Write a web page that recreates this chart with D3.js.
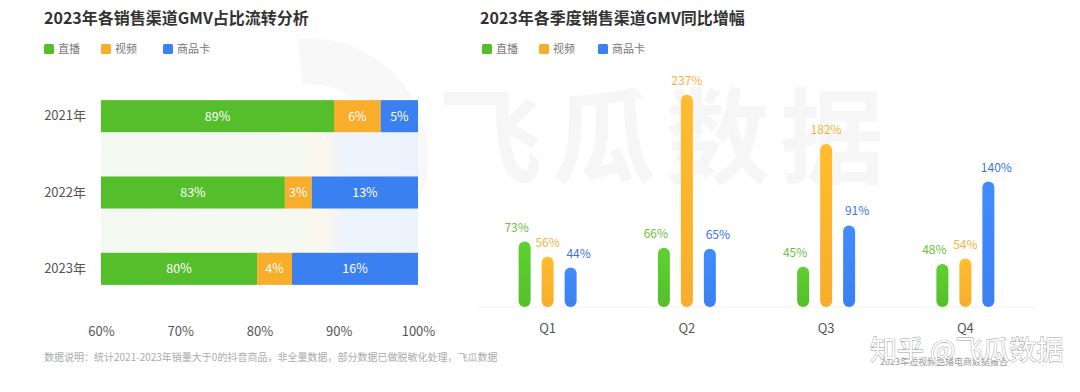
<!DOCTYPE html>
<html>
<head>
<meta charset="utf-8">
<script src="https://cdn.jsdelivr.net/npm/d3@7"></script>
<style>
  body { margin: 0; background: #fff; }
  svg { display: block; font-family: "Noto Sans CJK SC", "Noto Sans", sans-serif; }
</style>
</head>
<body>
<svg id="chart" width="1080" height="392"></svg>
<script>
// left chart: channel share by year (raw shares, labels rounded)
const years = ["2021年", "2022年", "2023年"];
const liveShare = [89.4, 83.2, 79.7];
const videoShare = [5.9, 3.4, 4.4];
const cardShare = [4.7, 13.4, 15.9];
const shareTicks = [60, 70, 80, 90, 100];

// right chart: yoy growth by quarter
const quarters = ["Q1", "Q2", "Q3", "Q4"];
const liveGrowth = [73, 66, 45, 48];
const videoGrowth = [56, 237, 182, 54];
const cardGrowth = [44, 65, 91, 140];

const seriesNames = ["直播", "视频", "商品卡"];
const colors = ["#55bf2b", "#f8ad2b", "#3b80f1"];
const textColors = ["#6dbd42", "#f2b440", "#3a74dc"];

const svg = d3.select("#chart");
const defs = svg.append("defs");

// watermark text
svg.append("text")
    .attr("x", 438).attr("y", 176)
    .attr("font-size", 104).attr("font-weight", 700)
    .attr("letter-spacing", 10)
    .attr("fill", "#f6f6f6")
    .text("飞瓜数据");

// faint logo arc behind left chart
svg.append("path")
    .attr("d", "M300,62 A95,95 0 1,1 250,230")
    .attr("fill", "none")
    .attr("stroke", "#f8f8f8")
    .attr("stroke-width", 46);

// ---------- titles and legends ----------
function legend(x0, gaps) {
  const g = svg.append("g").attr("transform", `translate(${x0},49)`);
  let x = 0;
  seriesNames.forEach((name, i) => {
    g.append("rect").attr("x", x).attr("y", -5).attr("width", 10).attr("height", 10)
        .attr("rx", 1.5).attr("fill", colors[i]);
    g.append("text").attr("x", x + 14).attr("y", 4)
        .attr("font-size", 11).attr("fill", "#777").text(name);
    x += gaps[i];
  });
}

svg.append("text").attr("x", 44).attr("y", 24)
    .attr("font-size", 16).attr("font-weight", 700).attr("fill", "#333")
    .text("2023年各销售渠道GMV占比流转分析");
legend(44, [57, 62, 0]);

svg.append("text").attr("x", 480).attr("y", 24)
    .attr("font-size", 16).attr("font-weight", 700).attr("fill", "#333")
    .text("2023年各季度销售渠道GMV同比增幅");
legend(482, [57, 59, 0]);

// ---------- left: stacked horizontal bars ----------
const x = d3.scaleLinear().domain([60, 100]).range([101, 418]).clamp(true);
const y = d3.scaleBand().domain(years).range([78, 307])
    .paddingInner(0.58).paddingOuter(0.29);

const grad = defs.append("linearGradient").attr("id", "stripe")
    .attr("x1", "0%").attr("x2", "100%");
grad.append("stop").attr("offset", "0%").attr("stop-color", "#f3f8f0");
grad.append("stop").attr("offset", "62%").attr("stop-color", "#f6f9f2");
grad.append("stop").attr("offset", "70%").attr("stop-color", "#fcf7ec");
grad.append("stop").attr("offset", "76%").attr("stop-color", "#eef4fc");
grad.append("stop").attr("offset", "100%").attr("stop-color", "#ecf3fd");

// background bands between bars
svg.append("g").selectAll("rect")
    .data(years.slice(0, -1))
    .join("rect")
    .attr("x", x(60))
    .attr("y", d => y(d) + y.bandwidth())
    .attr("width", x(100) - x(60))
    .attr("height", y.step() - y.bandwidth())
    .attr("fill", "url(#stripe)");

const rows = years.map((yr, i) => ({ year: yr, v: [liveShare[i], videoShare[i], cardShare[i]] }));
const segs = [];
rows.forEach(r => {
  let acc = 0;
  r.v.forEach((v, k) => { segs.push({ year: r.year, k, x0: acc, x1: acc + v, v }); acc += v; });
});

const left = svg.append("g");
left.selectAll("rect")
    .data(segs)
    .join("rect")
    .attr("x", d => x(d.x0))
    .attr("y", d => y(d.year))
    .attr("width", d => x(d.x1) - x(d.x0))
    .attr("height", y.bandwidth())
    .attr("fill", d => colors[d.k]);

left.selectAll("text")
    .data(segs)
    .join("text")
    .attr("x", d => (x(d.x0) + x(d.x1)) / 2)
    .attr("y", d => y(d.year) + y.bandwidth() / 2 + 4.5)
    .attr("text-anchor", "middle")
    .attr("font-size", 12.5)
    .attr("fill", "#fff")
    .text(d => d3.format(".0f")(d.v) + "%");

svg.append("g")
    .attr("transform", "translate(0,324)")
    .call(d3.axisBottom(x).tickValues(shareTicks).tickSize(0).tickFormat(d => d + "%"))
    .call(g => g.select(".domain").remove())
    .call(g => g.selectAll("text").attr("font-size", 13).attr("fill", "#555")
        .attr("font-family", "Noto Sans CJK SC"));

svg.append("g")
    .attr("transform", "translate(89,0)")
    .call(d3.axisLeft(y).tickSize(0))
    .call(g => g.select(".domain").remove())
    .call(g => g.selectAll("text").attr("font-size", 13).attr("fill", "#555")
        .attr("font-family", "Noto Sans CJK SC"));

svg.append("text").attr("x", 44).attr("y", 361)
    .attr("font-size", 10).attr("fill", "#aaa")
    .text("数据说明：统计2021-2023年销量大于0的抖音商品，非全量数据，部分数据已做脱敏化处理，飞瓜数据");

// ---------- right: grouped rounded bars ----------
const qx = d3.scaleBand().domain(quarters).range([478, 1035]);
const sx = d3.scalePoint().domain([0, 1, 2]).range([-23, 23]);
const gy = d3.scaleLinear().domain([0, 250]).range([307, 83]);
const labelShift = [-8, 0, 8];

colors.forEach((c, k) => {
  const lg = defs.append("linearGradient").attr("id", "bar" + k)
      .attr("x1", 0).attr("x2", 0).attr("y1", 0).attr("y2", 1);
  lg.append("stop").attr("offset", "0%").attr("stop-color", d3.color(c).brighter(0.25));
  lg.append("stop").attr("offset", "100%").attr("stop-color", c);
});

svg.append("line")
    .attr("x1", 478).attr("x2", 1035)
    .attr("y1", gy(0)).attr("y2", gy(0))
    .attr("stroke", "#f2f2f2");

const gdata = [];
quarters.forEach((q, i) => {
  [liveGrowth[i], videoGrowth[i], cardGrowth[i]].forEach((v, k) => gdata.push({ q, k, v }));
});

const right = svg.append("g");
const bw = 12;
right.selectAll("rect")
    .data(gdata)
    .join("rect")
    .attr("x", d => qx(d.q) + qx.bandwidth() / 2 + sx(d.k) - bw / 2)
    .attr("y", d => gy(d.v))
    .attr("width", bw)
    .attr("height", d => gy(0) - gy(d.v))
    .attr("rx", bw / 2)
    .attr("fill", d => `url(#bar${d.k})`);

right.selectAll("text")
    .data(gdata)
    .join("text")
    .attr("x", d => qx(d.q) + qx.bandwidth() / 2 + sx(d.k) + labelShift[d.k])
    .attr("y", d => gy(d.v) - 10)
    .attr("text-anchor", "middle")
    .attr("font-size", 12)
    .attr("fill", d => textColors[d.k])
    .text(d => d.v + "%");

svg.append("g")
    .attr("transform", `translate(0,${gy(0) + 17})`)
    .call(d3.axisBottom(qx).tickSize(0).tickPadding(0))
    .call(g => g.select(".domain").remove())
    .call(g => g.selectAll("text").attr("font-size", 13).attr("fill", "#555")
        .attr("font-family", "Noto Sans CJK SC"));

// bottom-right source stamp
svg.append("text").attr("x", 880).attr("y", 365)
    .attr("font-size", 9).attr("fill", "#999")
    .text("2023年短视频直播电商数据报告");
svg.append("text").attr("x", 870).attr("y", 360)
    .attr("font-size", 27).attr("fill", "#fff")
    .attr("stroke", "#9a9a9a").attr("stroke-width", 0.9)
    .attr("paint-order", "stroke")
    .text("知乎 @飞瓜数据");
</script>
</body>
</html>
